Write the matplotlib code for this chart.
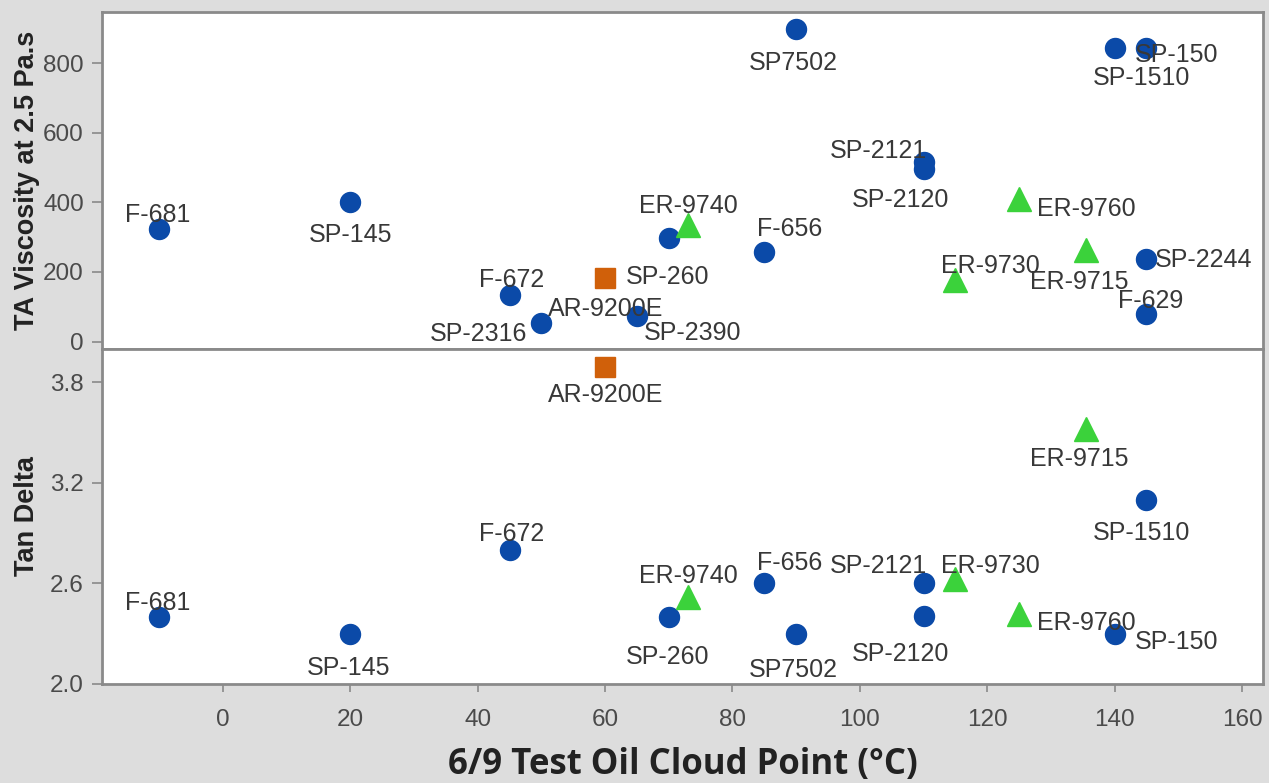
import numpy as np
import matplotlib
matplotlib.use("Agg")
import matplotlib.pyplot as plt

# blue circles
sp_names = ["F-681", "SP-145", "F-672", "SP-2316", "SP-2390", "SP-260", "F-656",
            "SP7502", "SP-2121", "SP-2120", "SP-150", "SP-1510", "SP-2244", "F-629"]
sp_cloud = [-10, 20, 45, 50, 65, 70, 85, 90, 110, 110, 140, 145, 145, 145]
sp_visc = [322, 400, 133, 54, 72, 297, 258, 899, 515, 497, 843, 843, 237, 79]
sp_tan = [2.40, 2.30, 2.80, np.nan, np.nan, 2.40, 2.60, 2.30, 2.60, 2.405,
          2.30, 3.095, np.nan, np.nan]

# green triangles
er_names = ["ER-9740", "ER-9760", "ER-9730", "ER-9715"]
er_cloud = [73, 125, 115, 135.5]
er_visc = [334, 409, 176, 262]
er_tan = [2.52, 2.42, 2.625, 3.52]

# orange square
ar_names = ["AR-9200E"]
ar_cloud = [60]
ar_visc = [182]
ar_tan = [3.89]

# label offsets in pixels (dx, dy up)
top_offsets = {
    "F-681": (-2, 17), "SP-145": (0, -30), "F-672": (2, 18), "SP-2316": (-63, -9),
    "SP-2390": (56, -14), "SP-260": (-1, -36), "F-656": (25, 25), "SP7502": (-3, -32),
    "SP-2121": (-45, 14), "SP-2120": (-23, -29), "SP-150": (62, -4), "SP-1510": (-5, -27),
    "SP-2244": (57, 2), "F-629": (4, 16),
    "ER-9740": (0, 22), "ER-9760": (67, -7), "ER-9730": (35, 17), "ER-9715": (-7, -29),
    "AR-9200E": (1, -28),
}
bottom_offsets = {
    "F-681": (-2, 16), "SP-145": (-2, -32), "F-672": (2, 18), "SP-260": (-1, -38),
    "F-656": (25, 23), "SP7502": (-3, -34), "SP-2121": (-45, 20), "SP-2120": (-23, -35),
    "SP-150": (62, -6), "SP-1510": (-5, -30),
    "ER-9740": (0, 23), "ER-9760": (67, -7), "ER-9730": (35, 16), "ER-9715": (-7, -27),
    "AR-9200E": (1, -26),
}

BLUE = "#0b4aa8"
GREEN = "#3bd23b"
ORANGE = "#d0600a"
SPINE = "#8a8a8a"
TEXT = "#383838"

plt.rcParams['font.family'] = ['Liberation Sans', 'DejaVu Sans']

fig = plt.figure(figsize=(12.69, 7.83), dpi=100)
fig.patch.set_facecolor("#dddddd")

ax1 = fig.add_axes([102 / 1269, 1 - 348.5 / 783, 1161 / 1269, 336.5 / 783])
ax2 = fig.add_axes([102 / 1269, 1 - 684 / 783, 1161 / 1269, 335.5 / 783])


def draw_panel(ax, sp_y, er_y, ar_y, offsets):
    ax.plot(sp_cloud, sp_y, 'o', color=BLUE, markersize=14.4, linestyle='none', zorder=2)
    ax.plot(ar_cloud, ar_y, 's', color=ORANGE, markersize=15, linestyle='none', zorder=2)
    ax.plot(er_cloud, er_y, '^', color=GREEN, markersize=17, linestyle='none', zorder=3)
    for names, xs, ys in [(sp_names, sp_cloud, sp_y), (er_names, er_cloud, er_y),
                          (ar_names, ar_cloud, ar_y)]:
        for n, x, y in zip(names, xs, ys):
            if n not in offsets or np.isnan(y):
                continue
            ax.annotate(n, (x, y), xytext=offsets[n], textcoords='offset pixels',
                        ha='center', va='center_baseline', fontsize=18, color=TEXT, zorder=4)
    ax.set_xlim(-19, 163.3)
    ax.set_facecolor("white")
    for s in ax.spines.values():
        s.set_color(SPINE)
        s.set_linewidth(2)
    ax.tick_params(axis='y', direction='out', length=7, width=1.2, color=SPINE,
                   labelcolor="#4a4a4a", labelsize=17.5, pad=6)
    ax.tick_params(axis='x', direction='out', length=6, width=1.2, color=SPINE,
                   labelcolor="#4a4a4a", labelsize=17.5, pad=12)


draw_panel(ax1, sp_visc, er_visc, ar_visc, top_offsets)
ax1.set_ylim(-20, 947)
ax1.set_yticks([0, 200, 400, 600, 800])
ax1.tick_params(axis='x', bottom=False, labelbottom=False)
ax1.set_ylabel("TA Viscosity at 2.5 Pa.s", fontsize=19.5, fontweight='bold', color="#222222")

draw_panel(ax2, sp_tan, er_tan, ar_tan, bottom_offsets)
ax2.set_ylim(2.0, 4.0)
ax2.set_yticks([2.0, 2.6, 3.2, 3.8])
ax2.set_yticklabels(["2.0", "2.6", "3.2", "3.8"])
ax2.set_xticks([0, 20, 40, 60, 80, 100, 120, 140, 160])
ax2.set_ylabel("Tan Delta", fontsize=19.5, fontweight='bold', color="#222222")
ax2.set_xlabel("6/9 Test Oil Cloud Point (\u00b0C)", fontsize=25, fontweight='bold',
               color="#222222", family=['Open Sans', 'DejaVu Sans'])

ax1.yaxis.set_label_coords(-62 / 1161, 0.5)
ax2.yaxis.set_label_coords(-62 / 1161, 0.5)
ax2.xaxis.set_label_coords(0.5, -81 / 335.5)
ax2.xaxis.label.set_va('center')

fig.savefig("out.png", dpi=100, facecolor=fig.get_facecolor())
